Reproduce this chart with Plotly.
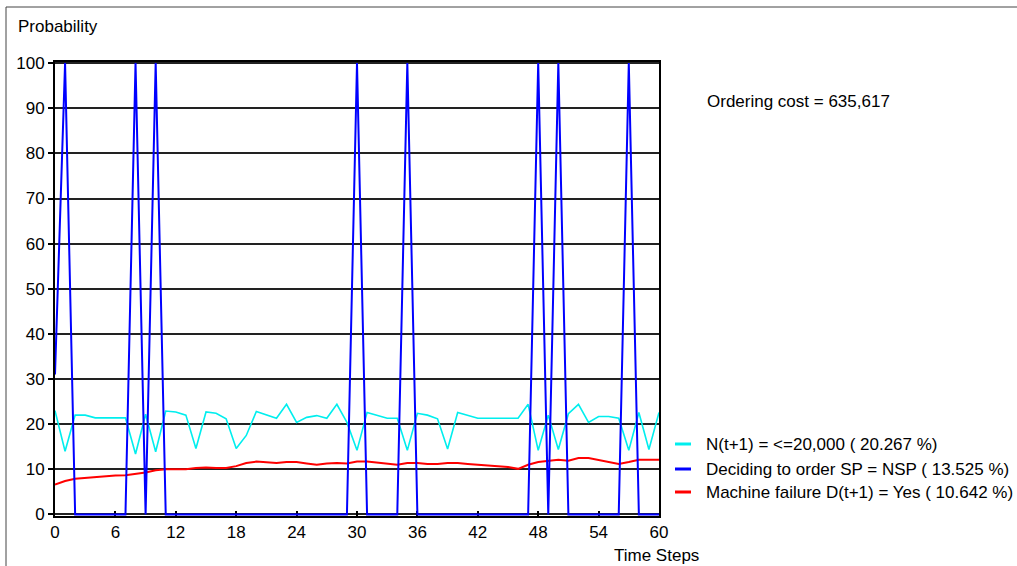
import plotly.graph_objects as go

# ---------------- data ----------------
time_steps = list(range(0, 61))

n_le_20000 = [23.0, 14.0, 22.0, 22.0, 21.4, 21.4, 21.4, 21.4, 13.4, 22.2,
              13.9, 22.9, 22.7, 22.0, 14.6, 22.7, 22.4, 21.2, 14.6, 17.5,
              22.8, 22.0, 21.3, 24.4, 20.4, 21.5, 21.9, 21.3, 24.4, 20.4,
              14.2, 22.6, 22.0, 21.3, 21.3, 14.2, 22.4, 22.0, 21.2, 14.5,
              22.6, 22.0, 21.3, 21.3, 21.3, 21.3, 21.3, 24.4, 14.2, 22.0,
              14.4, 22.3, 24.4, 20.4, 21.7, 21.7, 21.3, 14.2, 22.6, 14.4,
              22.6]

order_nsp = [31, 100, 0, 0, 0, 0, 0, 0, 100, 0,
             100, 0, 0, 0, 0, 0, 0, 0, 0, 0,
             0, 0, 0, 0, 0, 0, 0, 0, 0, 0,
             100, 0, 0, 0, 0, 100, 0, 0, 0, 0,
             0, 0, 0, 0, 0, 0, 0, 0, 100, 0,
             100, 0, 0, 0, 0, 0, 0, 100, 0, 0,
             0]

machine_failure = [6.6, 7.4, 7.9, 8.1, 8.3, 8.4, 8.6, 8.7, 9.0, 9.3,
                   9.8, 10.0, 10.0, 10.0, 10.3, 10.4, 10.3, 10.3, 10.7, 11.4,
                   11.7, 11.6, 11.4, 11.6, 11.6, 11.3, 11.0, 11.3, 11.4, 11.3,
                   11.7, 11.7, 11.5, 11.3, 11.0, 11.4, 11.4, 11.2, 11.2, 11.4,
                   11.4, 11.2, 11.0, 10.8, 10.6, 10.5, 10.1, 11.0, 11.6, 11.9,
                   12.1, 11.9, 12.5, 12.5, 12.1, 11.6, 11.2, 11.6, 12.1, 12.1,
                   12.1]

legend_labels = ["N(t+1) = <=20,000 ( 20.267 %)",
                 "Deciding to order SP = NSP ( 13.525 %)",
                 "Machine failure D(t+1) = Yes ( 10.642 %)"]
series_colors = ["#00EEEE", "#0000FF", "#FF0000"]

x_ticks = list(range(0, 61, 6))
y_ticks = list(range(0, 101, 10))

# ---------------- layout helpers (pixel -> paper) ----------------
W, H = 1017, 566
L, R, T, B = 55, 659, 62, 516


def px(p):
    return (p - L) / (R - L)


def py(q):
    return (B - q) / (B - T)


FONT = "Liberation Sans"

fig = go.Figure()
fig.add_trace(go.Scatter(x=time_steps, y=n_le_20000, mode="lines",
                         line=dict(color=series_colors[0], width=1.6),
                         name=legend_labels[0], showlegend=False))
fig.add_trace(go.Scatter(x=time_steps, y=machine_failure, mode="lines",
                         line=dict(color=series_colors[2], width=2),
                         name=legend_labels[2], showlegend=False))
fig.add_trace(go.Scatter(x=time_steps, y=order_nsp, mode="lines",
                         line=dict(color=series_colors[1], width=2),
                         name=legend_labels[1], showlegend=False))

fig.update_layout(
    width=W, height=H,
    margin=dict(l=L, r=W - R, t=T, b=H - B),
    paper_bgcolor="white", plot_bgcolor="white",
    font=dict(family=FONT, size=17, color="black"),
    xaxis=dict(range=[0, 60], tickvals=x_ticks, ticks="inside", ticklen=5,
               tickwidth=1.5, tickcolor="black", showline=True, linecolor="black",
               linewidth=2, mirror=True, showgrid=False, zeroline=False,
               layer="below traces", tickfont=dict(family=FONT, size=17)),
    yaxis=dict(range=[-0.35, 100.25], tickvals=y_ticks, ticks="outside", ticklen=5,
               tickwidth=1.5, tickcolor="black", showline=True, linecolor="black",
               linewidth=2, mirror=True, showgrid=True, gridcolor="#222222",
               gridwidth=2, zeroline=False, layer="below traces",
               tickfont=dict(family=FONT, size=17)),
)

# outer frame
fig.add_shape(type="line", xref="paper", yref="paper",
              x0=px(6), x1=px(W + 5), y0=py(7), y1=py(7),
              line=dict(color="#444444", width=1))
fig.add_shape(type="line", xref="paper", yref="paper",
              x0=px(6), x1=px(6), y0=py(7), y1=py(H + 5),
              line=dict(color="#444444", width=1))

# titles / labels
fig.add_annotation(text="Probability", xref="paper", yref="paper",
                   x=px(16), y=py(27), xanchor="left", yanchor="middle",
                   showarrow=False, font=dict(size=17))
fig.add_annotation(text="Time Steps", xref="paper", yref="paper",
                   x=px(612), y=py(555), xanchor="left", yanchor="middle",
                   showarrow=False, font=dict(size=17))
fig.add_annotation(text="Ordering cost = 635,617", xref="paper", yref="paper",
                   x=px(705), y=py(101), xanchor="left", yanchor="middle",
                   showarrow=False, font=dict(size=17))

# legend
legend_y = [444, 469, 492]
for lab, col, yy in zip(legend_labels, series_colors, legend_y):
    fig.add_shape(type="line", xref="paper", yref="paper",
                  x0=px(675), x1=px(691), y0=py(yy), y1=py(yy),
                  line=dict(color=col, width=3))
    fig.add_annotation(text=lab, xref="paper", yref="paper",
                       x=px(704), y=py(yy), xanchor="left", yanchor="middle",
                       showarrow=False, font=dict(size=17))

fig.write_html("out.html")
